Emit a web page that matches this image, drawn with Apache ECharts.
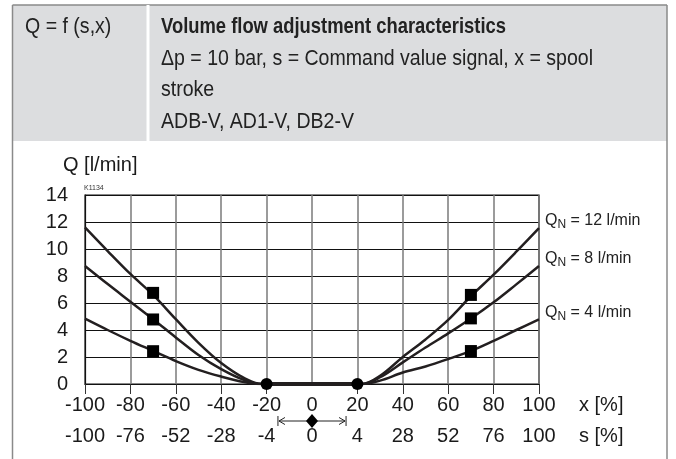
<!DOCTYPE html>
<html>
<head>
<meta charset="utf-8">
<script src="https://cdn.jsdelivr.net/npm/echarts@6/dist/echarts.min.js"></script>
<style>
  html, body { margin: 0; padding: 0; background: #fff; }
  #chart { width: 676px; height: 459px; }
</style>
</head>
<body>
<div id="chart"></div>
<script>
// x = spool stroke [%], s = command value signal [%]
const xTicks = [-100, -80, -60, -40, -20, 0, 20, 40, 60, 80, 100];
const sLabels = ['-100', '-76', '-52', '-28', '-4', '0', '4', '28', '52', '76', '100'];
const yTicks = [0, 2, 4, 6, 8, 10, 12, 14];

// curve points
const xLeft = [-100, -90, -80, -70, -60, -50, -40, -30, -22];
const xRight = [22, 30, 40, 50, 60, 70, 80, 90, 100];
const q12Left = [11.6, 9.85, 8.15, 6.6, 4.8, 3.05, 1.55, 0.45, 0];
const q12Right = [0, 0.6, 2.0, 3.3, 4.75, 6.5, 8.1, 9.8, 11.55];
const q8Left = [8.74, 7.4, 6.1, 4.8, 3.45, 2.15, 1.1, 0.3, 0];
const q8Right = [0, 0.5, 1.6, 2.7, 3.75, 4.85, 6.05, 7.38, 8.74];
const q4Left = [4.84, 4.0, 3.2, 2.45, 1.7, 1.05, 0.55, 0.15, 0];
const q4Right = [0, 0.25, 0.85, 1.3, 1.85, 2.45, 3.2, 4.0, 4.79];
const qnNames = ['12', '8', '4'];

// markers
const squareX = [-70, -70, -70, 70, 70, 70];
const squareQ = [6.75, 4.78, 2.43, 6.6, 4.86, 2.44];
const circleX = [-20, 20];
const deadZone = [-22, 22];
const arrowEnds = [-15, 15];

const font = '"Liberation Sans", Arial, sans-serif';
const ink = '#231f20';

function curve(left, right) {
    let pts = [];
    xLeft.forEach((x, i) => pts.push([x, left[i]]));
    xRight.forEach((x, i) => pts.push([x, right[i]]));
    return pts;
}

// squeeze header text to the narrow look of the original
const mctx = document.createElement('canvas').getContext('2d');
function fitScale(text, f, target) {
    mctx.font = f;
    return target / mctx.measureText(text).width;
}

const curves = [curve(q12Left, q12Right), curve(q8Left, q8Right), curve(q4Left, q4Right)];

const chart = echarts.init(document.getElementById('chart'));

let series = curves.map((data, i) => ({
    type: 'line',
    data: data,
    symbol: 'none',
    smooth: 0.35,
    lineStyle: { color: ink, width: 2.5 },
    z: 3,
    endLabel: {
        show: true,
        distance: 6,
        offset: [0, -7],
        formatter: '{q|Q}{n|N}{q| = ' + qnNames[i] + ' l/min}',
        rich: {
            q: { fontSize: 16, lineHeight: 20, color: '#222', fontFamily: font },
            n: { fontSize: 12, lineHeight: 12, verticalAlign: 'bottom', color: '#222', fontFamily: font }
        }
    }
}));

series.push({
    type: 'line',
    data: deadZone.map(x => [x, 0]),
    symbol: 'none',
    lineStyle: { color: ink, width: 4 },
    z: 4
});
series.push({
    type: 'scatter',
    data: squareX.map((x, i) => [x, squareQ[i]]),
    symbol: 'rect',
    symbolSize: 12,
    itemStyle: { color: '#000', opacity: 1 },
    z: 5
});
series.push({
    type: 'scatter',
    data: circleX.map(x => [x, 0]),
    symbol: 'circle',
    symbolSize: 12,
    itemStyle: { color: '#000', opacity: 1 },
    z: 5
});

const option = {
    animation: false,
    textStyle: { fontFamily: font },
    grid: { left: 85, right: 137, top: 195, bottom: 75, show: true, borderColor: '#111', borderWidth: 1.2 },
    xAxis: [{
        type: 'value',
        min: xTicks[0],
        max: xTicks[xTicks.length - 1],
        interval: 20,
        axisLine: { show: true, onZero: false, lineStyle: { color: '#111', width: 1.2 } },
        axisTick: { show: false },
        axisLabel: { fontSize: 20, margin: 11, color: '#1a1a1a', showMinLabel: true, showMaxLabel: true },
        splitLine: { show: true, lineStyle: { color: '#7a7a7a', width: 1.5 } }
    }, {
        type: 'value',
        position: 'bottom',
        offset: 32,
        min: xTicks[0],
        max: xTicks[xTicks.length - 1],
        interval: 20,
        axisLine: { show: false },
        axisTick: {
            show: true,
            length: 10,
            customValues: xTicks.filter(v => v !== 0),
            lineStyle: { color: '#333', width: 1 }
        },
        axisLabel: {
            fontSize: 20, margin: 10, color: '#1a1a1a',
            formatter: v => sLabels[xTicks.indexOf(v)]
        },
        splitLine: { show: false }
    }],
    yAxis: {
        type: 'value',
        min: yTicks[0],
        max: yTicks[yTicks.length - 1],
        interval: 2,
        axisLine: { show: true, onZero: false, lineStyle: { color: '#111', width: 1.2 } },
        axisTick: { show: false },
        axisLabel: { fontSize: 20, margin: 17, color: '#1a1a1a' },
        splitLine: { show: true, lineStyle: { color: '#111', width: 1.2 } }
    },
    series: series
};
chart.setOption(option);

// header box, frame and loose texts
const headRows = [
    { text: 'Volume flow adjustment characteristics', bold: true },
    { text: '\u0394p = 10 bar, s = Command value signal, x = spool' },
    { text: 'stroke' },
    { text: 'ADB-V, AD1-V, DB2-V' }
];
const headFont = '22px ' + font;
const headBold = 'bold 22px ' + font;
const sxBold = fitScale(headRows[0].text, headBold, 345);
const sxReg = fitScale(headRows[1].text, headFont, 432);

let gfx = [
    { type: 'rect', shape: { x: 12.5, y: 5, width: 654.5, height: 136 }, style: { fill: '#dcdddf', stroke: 'none' }, z: -10 },
    { type: 'line', shape: { x1: 12.5, y1: 5, x2: 667, y2: 5 }, style: { stroke: '#8a8a8a', lineWidth: 1.5 } },
    { type: 'line', shape: { x1: 12.5, y1: 5, x2: 12.5, y2: 459 }, style: { stroke: '#8a8a8a', lineWidth: 1.5 } },
    { type: 'line', shape: { x1: 667, y1: 5, x2: 667, y2: 459 }, style: { stroke: '#8a8a8a', lineWidth: 1.5 } },
    { type: 'line', shape: { x1: 148, y1: 5, x2: 148, y2: 141 }, style: { stroke: '#fff', lineWidth: 3 } },
    { type: 'text', x: 25, y: 27, scaleX: sxReg, style: { text: 'Q = f (s,x)', font: headFont, fill: '#222', textVerticalAlign: 'middle' } },
    { type: 'text', x: 63, y: 165, style: { text: 'Q [l/min]', font: '20px ' + font, fill: '#1a1a1a', textVerticalAlign: 'middle' } },
    { type: 'text', x: 84, y: 188, style: { text: 'K1134', font: '7px ' + font, fill: '#333', textVerticalAlign: 'middle' } },
    { type: 'text', x: 579, y: 405, style: { text: 'x [%]', font: '20px ' + font, fill: '#1a1a1a', textVerticalAlign: 'middle' } },
    { type: 'text', x: 579, y: 436, style: { text: 's [%]', font: '20px ' + font, fill: '#1a1a1a', textVerticalAlign: 'middle' } }
];
headRows.forEach((r, i) => {
    gfx.push({
        type: 'text', x: 161, y: 27 + i * 31.5, scaleX: r.bold ? sxBold : sxReg,
        style: { text: r.text, font: r.bold ? headBold : headFont, fill: '#222', textVerticalAlign: 'middle' }
    });
});

// dead band arrow between the two s rows
const px = v => chart.convertToPixel({ xAxisIndex: 0 }, v);
const xa = px(arrowEnds[0]), xb = px(arrowEnds[1]), xc = px(0);
const ay = 421;
gfx.push(
    { type: 'line', shape: { x1: xa, y1: ay - 5, x2: xa, y2: ay + 5 }, style: { stroke: '#222', lineWidth: 1 } },
    { type: 'line', shape: { x1: xb, y1: ay - 5, x2: xb, y2: ay + 5 }, style: { stroke: '#222', lineWidth: 1 } },
    { type: 'line', shape: { x1: xa + 1, y1: ay, x2: xb - 1, y2: ay }, style: { stroke: '#222', lineWidth: 1 } },
    { type: 'polyline', shape: { points: [[xa + 7, ay - 3.5], [xa + 1, ay], [xa + 7, ay + 3.5]] }, style: { stroke: '#222', lineWidth: 1, fill: 'none' } },
    { type: 'polyline', shape: { points: [[xb - 7, ay - 3.5], [xb - 1, ay], [xb - 7, ay + 3.5]] }, style: { stroke: '#222', lineWidth: 1, fill: 'none' } },
    { type: 'polygon', shape: { points: [[xc, ay - 7], [xc + 6, ay], [xc, ay + 7], [xc - 6, ay]] }, style: { fill: '#000' } }
);

chart.setOption({ graphic: { elements: gfx } });
</script>
</body>
</html>
